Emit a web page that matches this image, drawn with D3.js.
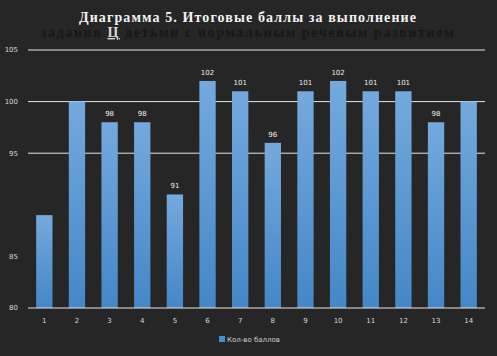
<!DOCTYPE html>
<html><head><meta charset="utf-8">
<script src="https://cdn.jsdelivr.net/npm/d3@7"></script>
<style>body{margin:0;background:#262626;}svg{display:block;}</style>
</head><body>
<svg id="c" width="497" height="356"></svg>
<script>
const categories = ["1","2","3","4","5","6","7","8","9","10","11","12","13","14"];
const values = [89,100,98,98,91,102,101,96,101,102,101,101,98,100];
const dataLabels = [null,null,98,98,91,102,101,96,101,102,101,101,98,null];
const yTicks = [80,85,95,100,105];
const gridTicks = [95,100,105];
const titleLine1 = "Диаграмма 5. Итоговые баллы за выполнение";
const titleLine2a = "задания ";
const titleLine2b = "Ц";
const titleLine2c = " детьми с нормальным речевым развитием";
const legendLabel = "Кол-во баллов";

const W=497,H=356;
const svg=d3.select("#c");
svg.append("rect").attr("width",W).attr("height",H).attr("fill","#262626");
const m={l:28,r:12,t:50,b:48};
const x=d3.scaleBand().domain(categories).range([m.l,W-m.r]).paddingInner(0.5).paddingOuter(0.25);
const y=d3.scaleLinear().domain([80,105]).range([308,50]);

const defs=svg.append("defs");
const g=defs.append("linearGradient").attr("id","bg").attr("x1",0).attr("y1",0).attr("x2",0).attr("y2",1);
g.append("stop").attr("offset","0%").attr("stop-color","#74a9dd");
g.append("stop").attr("offset","100%").attr("stop-color","#4587c7");

// title
svg.append("text").attr("x",248).attr("y",22).attr("text-anchor","middle")
 .attr("font-family","Liberation Serif").attr("font-weight","bold").attr("font-size",14)
 .attr("letter-spacing",1.1)
 .attr("fill","#f2f2f2").text(titleLine1);
const t2=svg.append("text").attr("x",248).attr("y",37).attr("text-anchor","middle")
 .attr("font-family","Liberation Serif").attr("font-weight","bold").attr("font-size",14)
 .attr("letter-spacing",1.6)
 .attr("fill","#181818");
t2.append("tspan").text(titleLine2a);
t2.append("tspan").attr("fill","#d8d8d8").attr("text-decoration","underline").text(titleLine2b);
t2.append("tspan").text(titleLine2c);

// grid
svg.append("g").selectAll("line").data(gridTicks).join("line")
 .attr("x1",m.l).attr("x2",W-m.r).attr("y1",d=>y(d)).attr("y2",d=>y(d))
 .attr("stroke","#e6e6e6").attr("stroke-width",1);

// y labels
svg.append("g").selectAll("text").data(yTicks).join("text")
 .attr("x",18).attr("y",d=>y(d)).attr("dy","0.35em").attr("text-anchor","end")
 .attr("font-family","DejaVu Sans").attr("font-size",7).attr("fill","#d9d9d9").text(d=>d);

// bars
svg.append("g").selectAll("rect").data(values).join("rect")
 .attr("x",(d,i)=>x(categories[i])).attr("width",x.bandwidth())
 .attr("y",d=>y(d)).attr("height",d=>y(80)-y(d)).attr("fill","url(#bg)");

// baseline
svg.append("line").attr("x1",m.l).attr("x2",W-m.r).attr("y1",y(80)).attr("y2",y(80))
 .attr("stroke","#e6e6e6").attr("stroke-width",1);

// data labels
svg.append("g").selectAll("text").data(dataLabels.map((d,i)=>({d,i})).filter(o=>o.d!==null)).join("text")
 .attr("x",o=>x(categories[o.i])+x.bandwidth()/2).attr("y",o=>y(values[o.i])-6)
 .attr("text-anchor","middle").attr("font-family","DejaVu Sans").attr("font-size",7)
 .attr("fill","#f0f0f0").text(o=>o.d);

// x labels
svg.append("g").selectAll("text").data(categories).join("text")
 .attr("x",d=>x(d)+x.bandwidth()/2).attr("y",323).attr("text-anchor","middle")
 .attr("font-family","DejaVu Sans").attr("font-size",7).attr("fill","#d9d9d9").text(d=>d);

// legend
svg.append("rect").attr("x",219).attr("y",336).attr("width",6).attr("height",6).attr("fill","#4a8ccc");
svg.append("text").attr("x",227).attr("y",342).attr("font-family","DejaVu Sans").attr("font-size",7)
 .attr("fill","#d0d0d0").text(legendLabel);
</script>
</body></html>
